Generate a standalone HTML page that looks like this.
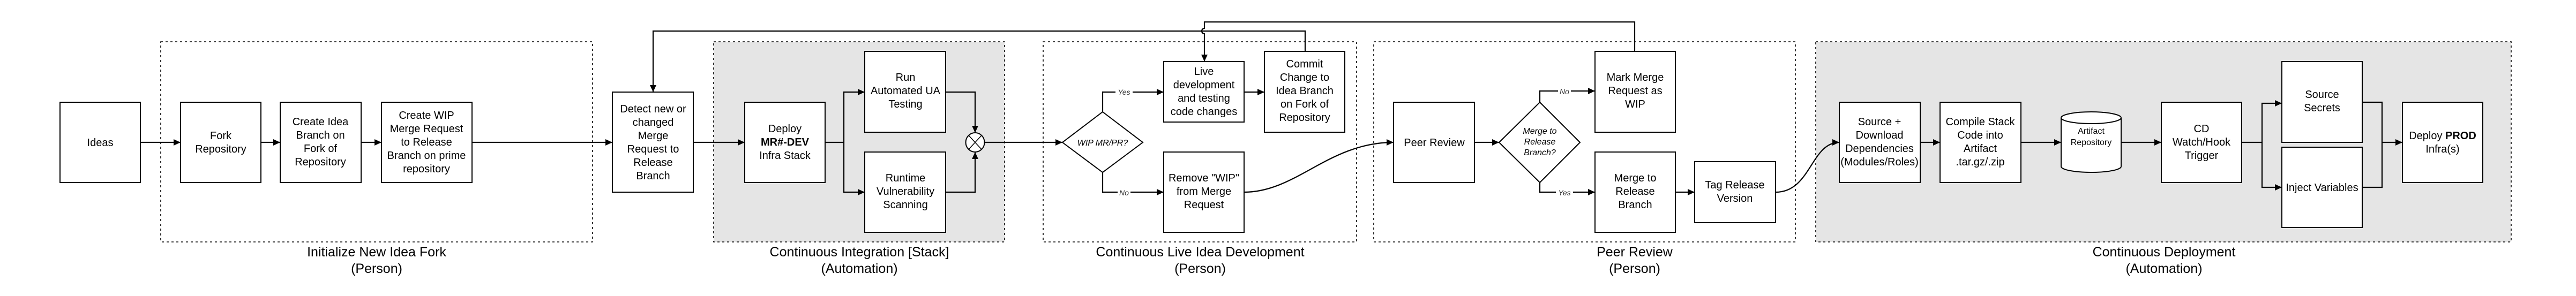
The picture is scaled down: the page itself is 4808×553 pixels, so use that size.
<!DOCTYPE html>
<html><head><meta charset="utf-8"><style>
html,body{margin:0;padding:0;background:#fff;}
svg{display:block;font-family:"Liberation Sans",sans-serif;}
.n{font-size:20px;text-anchor:middle;fill:#000;}
.g{font-size:25px;text-anchor:middle;fill:#000;}
.d{font-size:16px;text-anchor:middle;font-style:italic;}
.l{font-size:14px;text-anchor:middle;font-style:italic;fill:#333;}
.b{fill:#fff;stroke:#000;stroke-width:2;}
.c{fill:none;stroke:#000;stroke-width:2.2;}
.grp{stroke:#000;stroke-width:1.6;stroke-dasharray:4 5;}
</style></head><body>
<svg width="4808" height="553" viewBox="0 0 4808 553" xmlns="http://www.w3.org/2000/svg">
<defs><marker id="a" viewBox="0 0 10 10" refX="10" refY="5" markerWidth="6" markerHeight="5.5" orient="auto" markerUnits="strokeWidth" preserveAspectRatio="none"><path d="M0,0L10,5L0,10z" fill="#000"/></marker></defs>

<!-- groups -->
<rect class="grp" x="300" y="78" width="806" height="374" fill="none"/>
<rect class="grp" x="1332" y="78" width="543" height="374" fill="#e5e5e5"/>
<rect class="grp" x="1947" y="78" width="585" height="374" fill="none"/>
<rect class="grp" x="2564" y="78" width="787" height="374" fill="none"/>
<rect class="grp" x="3389" y="78" width="1298" height="374" fill="#e5e5e5"/>

<text class="g" x="703" y="479">Initialize New Idea Fork</text><text class="g" x="703" y="510">(Person)</text>
<text class="g" x="1604" y="479">Continuous Integration [Stack]</text><text class="g" x="1604" y="510">(Automation)</text>
<text class="g" x="2240" y="479">Continuous Live Idea Development</text><text class="g" x="2240" y="510">(Person)</text>
<text class="g" x="3051" y="479">Peer Review</text><text class="g" x="3051" y="510">(Person)</text>
<text class="g" x="4039" y="479">Continuous Deployment</text><text class="g" x="4039" y="510">(Automation)</text>

<!-- connectors -->
<path class="c" marker-end="url(#a)" d="M262,266H337"/>
<path class="c" marker-end="url(#a)" d="M487,266H523"/>
<path class="c" marker-end="url(#a)" d="M674,266H712"/>
<path class="c" marker-end="url(#a)" d="M881,266H1143"/>
<path class="c" marker-end="url(#a)" d="M1294,266H1390"/>
<path class="c" d="M1540,266H1575"/>
<path class="c" marker-end="url(#a)" d="M1575,266V172H1614"/>
<path class="c" marker-end="url(#a)" d="M1575,266V359H1614"/>
<path class="c" marker-end="url(#a)" d="M1765,172H1820V248"/>
<path class="c" marker-end="url(#a)" d="M1765,359H1820V284"/>
<path class="c" marker-end="url(#a)" d="M1838,266H1983"/>
<path class="c" marker-end="url(#a)" d="M2058,209V172H2172"/>
<path class="c" marker-end="url(#a)" d="M2058,322V359H2172"/>
<path class="c" marker-end="url(#a)" d="M2322,172H2360"/>
<path class="c" marker-end="url(#a)" d="M2436,96V58H1219V172"/>
<path class="c" marker-end="url(#a)" d="M3051,96V41H2248V53A5,5 0 0 0 2248,63V115"/>
<path class="c" marker-end="url(#a)" d="M2322,359C2420,359 2480,266 2601,266"/>
<path class="c" marker-end="url(#a)" d="M2752,266H2798"/>
<path class="c" marker-end="url(#a)" d="M2874,191V170H2977"/>
<path class="c" marker-end="url(#a)" d="M2874,341V359H2977"/>
<path class="c" marker-end="url(#a)" d="M3127,359H3163"/>
<path class="c" marker-end="url(#a)" d="M3314,359C3380,359 3380,266 3433,266"/>
<path class="c" marker-end="url(#a)" d="M3584,266H3621"/>
<path class="c" marker-end="url(#a)" d="M3772,266H3847"/>
<path class="c" marker-end="url(#a)" d="M3959,266H4034"/>
<path class="c" d="M4184,266H4222"/>
<path class="c" marker-end="url(#a)" d="M4222,266V193H4259"/>
<path class="c" marker-end="url(#a)" d="M4222,266V350H4259"/>
<path class="c" d="M4409,191H4446V350H4409"/>
<path class="c" marker-end="url(#a)" d="M4446,266H4484"/>

<rect x="2082" y="162" width="32" height="18" fill="#fff"/><text class="l" x="2098" y="177">Yes</text>
<rect x="2086" y="350" width="24" height="18" fill="#fff"/><text class="l" x="2098" y="365">No</text>
<rect x="2908" y="161" width="24" height="18" fill="#fff"/><text class="l" x="2920" y="176">No</text>
<rect x="2904" y="350" width="32" height="18" fill="#fff"/><text class="l" x="2920" y="365">Yes</text>

<!-- nodes -->
<rect class="b" x="112" y="191" width="150" height="150"/><text class="n" x="187" y="273">Ideas</text>
<rect class="b" x="337" y="191" width="150" height="150"/><text class="n" x="412" y="260">Fork</text><text class="n" x="412" y="285">Repository</text>
<rect class="b" x="523" y="191" width="151" height="150"/><text class="n" x="598" y="234">Create Idea</text><text class="n" x="598" y="259">Branch on</text><text class="n" x="598" y="284">Fork of</text><text class="n" x="598" y="309">Repository</text>
<rect class="b" x="712" y="191" width="169" height="150"/><text class="n" x="796" y="222">Create WIP</text><text class="n" x="796" y="247">Merge Request</text><text class="n" x="796" y="272">to Release</text><text class="n" x="796" y="297">Branch on prime</text><text class="n" x="796" y="322">repository</text>
<rect class="b" x="1143" y="172" width="151" height="187"/><text class="n" x="1219" y="210">Detect new or</text><text class="n" x="1219" y="235">changed</text><text class="n" x="1219" y="260">Merge</text><text class="n" x="1219" y="285">Request to</text><text class="n" x="1219" y="310">Release</text><text class="n" x="1219" y="335">Branch</text>
<rect class="b" x="1390" y="191" width="150" height="150"/><text class="n" x="1465" y="247">Deploy</text><text class="n" x="1465" y="272" font-weight="bold">MR#-DEV</text><text class="n" x="1465" y="297">Infra Stack</text>
<rect class="b" x="1614" y="96" width="151" height="151"/><text class="n" x="1690" y="151">Run</text><text class="n" x="1690" y="176">Automated UA</text><text class="n" x="1690" y="201">Testing</text>
<rect class="b" x="1614" y="284" width="151" height="150"/><text class="n" x="1690" y="339">Runtime</text><text class="n" x="1690" y="364">Vulnerability</text><text class="n" x="1690" y="389">Scanning</text>
<ellipse cx="1820" cy="266" rx="17.5" ry="18" fill="#fff" stroke="#000" stroke-width="2"/>
<path d="M1808,253L1832,279M1832,253L1808,279" stroke="#000" stroke-width="1.5"/>
<polygon class="b" points="2058,209 2133,266 2058,322 1983,266"/><text class="d" x="2058" y="272">WIP MR/PR?</text>
<rect class="b" x="2172" y="115" width="150" height="113"/><text class="n" x="2247" y="140">Live</text><text class="n" x="2247" y="165">development</text><text class="n" x="2247" y="190">and testing</text><text class="n" x="2247" y="215">code changes</text>
<rect class="b" x="2172" y="284" width="150" height="150"/><text class="n" x="2247" y="339">Remove "WIP"</text><text class="n" x="2247" y="364">from Merge</text><text class="n" x="2247" y="389">Request</text>
<rect class="b" x="2360" y="96" width="150" height="151"/><text class="n" x="2435" y="126">Commit</text><text class="n" x="2435" y="151">Change to</text><text class="n" x="2435" y="176">Idea Branch</text><text class="n" x="2435" y="201">on Fork of</text><text class="n" x="2435" y="226">Repository</text>
<rect class="b" x="2601" y="191" width="151" height="150"/><text class="n" x="2677" y="273">Peer Review</text>
<polygon class="b" points="2874,191 2949,266 2874,341 2798,266"/><text class="d" x="2874" y="250">Merge to</text><text class="d" x="2874" y="270">Release</text><text class="d" x="2874" y="290">Branch?</text>
<rect class="b" x="2977" y="96" width="150" height="151"/><text class="n" x="3052" y="151">Mark Merge</text><text class="n" x="3052" y="176">Request as</text><text class="n" x="3052" y="201">WIP</text>
<rect class="b" x="2977" y="284" width="150" height="150"/><text class="n" x="3052" y="339">Merge to</text><text class="n" x="3052" y="364">Release</text><text class="n" x="3052" y="389">Branch</text>
<rect class="b" x="3163" y="302" width="151" height="114"/><text class="n" x="3238" y="352">Tag Release</text><text class="n" x="3238" y="377">Version</text>
<rect class="b" x="3433" y="191" width="151" height="150"/><text class="n" x="3508" y="234">Source +</text><text class="n" x="3508" y="259">Download</text><text class="n" x="3508" y="284">Dependencies</text><text class="n" x="3508" y="309">(Modules/Roles)</text>
<rect class="b" x="3621" y="191" width="151" height="150"/><text class="n" x="3696" y="234">Compile Stack</text><text class="n" x="3696" y="259">Code into</text><text class="n" x="3696" y="284">Artifact</text><text class="n" x="3696" y="309">.tar.gz/.zip</text>
<path d="M3847,220V311A56,11 0 0 0 3959,311V220" fill="#fff" stroke="#000" stroke-width="2"/>
<ellipse cx="3903" cy="220" rx="56" ry="11" fill="#fff" stroke="#000" stroke-width="2"/>
<text x="3903" y="250" font-size="16" text-anchor="middle">Artifact</text><text x="3903" y="271" font-size="16" text-anchor="middle">Repository</text>
<rect class="b" x="4034" y="191" width="150" height="150"/><text class="n" x="4109" y="247">CD</text><text class="n" x="4109" y="272">Watch/Hook</text><text class="n" x="4109" y="297">Trigger</text>
<rect class="b" x="4259" y="115" width="150" height="151"/><text class="n" x="4334" y="183">Source</text><text class="n" x="4334" y="208">Secrets</text>
<rect class="b" x="4259" y="275" width="150" height="150"/><text class="n" x="4334" y="357">Inject Variables</text>
<rect class="b" x="4484" y="191" width="150" height="150"/><text class="n" x="4559" y="260">Deploy <tspan font-weight="bold">PROD</tspan></text><text class="n" x="4559" y="285">Infra(s)</text>
</svg>
</body></html>
